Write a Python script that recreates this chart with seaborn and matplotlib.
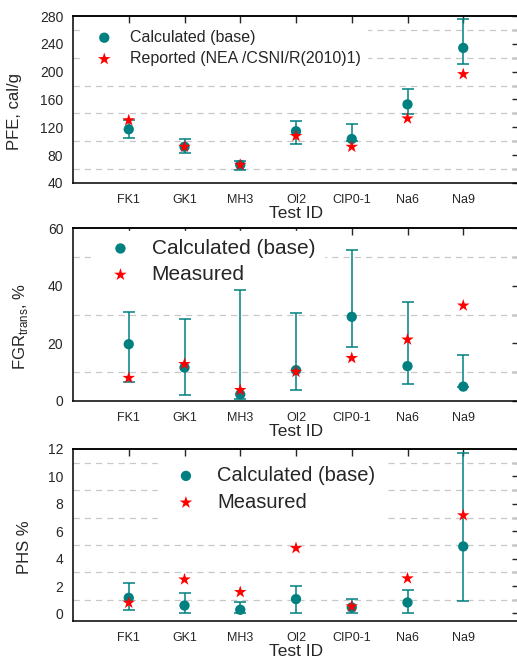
import numpy as np
import pandas as pd
import matplotlib
matplotlib.use("Agg")
import matplotlib.pyplot as plt
import seaborn as sns

# test cases
tests = ["FK1", "GK1", "MH3", "OI2", "CIP0-1", "Na6", "Na9"]
xpos = np.arange(1, len(tests) + 1)

# PFE, cal/g
pfe_calc = [117.2, 92.1, 66.0, 114.3, 103.2, 153.0, 234.1]
pfe_low = [104.2, 82.4, 59.2, 95.5, 101.0, 139.0, 211.4]
pfe_high = [130.0, 103.7, 72.3, 129.3, 125.4, 174.7, 275.2]
pfe_rep = [130.2, 92.0, 66.0, 107.5, 92.0, 132.7, 196.4]

# FGR trans, %
fgr_calc = [19.7, 11.6, 2.3, 10.7, 29.2, 12.1, 5.0]
fgr_low = [6.6, 2.1, 0.8, 3.7, 18.6, 6.0, 5.0]
fgr_high = [30.8, 28.6, 38.6, 30.4, 52.2, 34.5, 15.8]
fgr_meas = [8.0, 12.8, 3.8, 10.1, 14.9, 21.3, 33.1]

# PHS %
phs_calc = [1.14, 0.58, 0.27, 1.05, 0.44, 0.80, 4.89]
phs_low = [0.22, 0.0, 0.0, 0.02, 0.02, 0.0, 0.92]
phs_high = [2.24, 1.46, 0.80, 1.97, 1.05, 1.68, 11.68]
phs_meas = [0.78, 2.48, 1.56, 4.77, 0.51, 2.56, 7.16]

teal = "#008080"
red = "#ff0000"

sns.set_style("white")
plt.rcParams["font.family"] = ["Liberation Sans", "DejaVu Sans"]
plt.rcParams["mathtext.fontset"] = "custom"
plt.rcParams["mathtext.rm"] = "Liberation Sans"

fig = plt.figure(figsize=(5.17, 6.62), dpi=100)

W = 446 / 517
panels = [
    dict(rect=[73 / 517, 1 - 183 / 662, W, 167 / 662],
         calc=pfe_calc, low=pfe_low, high=pfe_high, ref=pfe_rep,
         ref_label="Reported (NEA /CSNI/R(2010)1)",
         ylim=(40, 280), major=np.arange(40, 281, 40), minor=np.arange(60, 261, 40),
         ylabel="PFE, cal/g", ylab_x=-0.114, leg_size=11.5,
         leg_anchor=(0.02, 0.955), leg_space=0.4, leg_pad=0.6),
    dict(rect=[73 / 517, 1 - 401 / 662, W, 173 / 662],
         calc=fgr_calc, low=fgr_low, high=fgr_high, ref=fgr_meas,
         ref_label="Measured",
         ylim=(0, 60), major=np.arange(0, 61, 20), minor=np.arange(10, 51, 20),
         ylabel=r"FGR$_{\mathrm{trans}}$, %", ylab_x=-0.096, leg_size=15,
         leg_anchor=(0.041, 0.985), leg_space=0.35, leg_pad=0.5),
    dict(rect=[73 / 517, 1 - 621 / 662, W, 172 / 662],
         calc=phs_calc, low=phs_low, high=phs_high, ref=phs_meas,
         ref_label="Measured",
         ylim=(-0.55, 12), major=np.arange(0, 13, 2), minor=np.arange(1, 12, 2),
         ylabel="PHS %", ylab_x=-0.092, leg_size=14.5,
         leg_anchor=(0.19, 0.947), leg_space=0.38, leg_pad=0.55),
]

for p in panels:
    ax = fig.add_axes(p["rect"])
    calc = np.array(p["calc"])
    err = [calc - np.array(p["low"]), np.array(p["high"]) - calc]
    ax.errorbar(xpos, calc, yerr=err, fmt="none", ecolor=teal, elinewidth=1.1,
                capsize=4, capthick=1.1, zorder=3)
    df = pd.DataFrame({"x": xpos, "calc": calc, "ref": p["ref"]})
    sns.scatterplot(data=df, x="x", y="calc", ax=ax, color=teal, s=55,
                    edgecolor="none", label="Calculated (base)", zorder=4)
    sns.scatterplot(data=df, x="x", y="ref", ax=ax, color=red, marker="*", s=90,
                    edgecolor="none", label=p["ref_label"], zorder=5)

    ax.set_xlim(0, 8)
    ax.set_ylim(*p["ylim"])
    ax.set_xticks(np.arange(0, 8))
    ax.set_xticklabels([""] + tests, fontsize=9)
    ax.set_yticks(p["major"])
    ax.set_yticks(p["minor"], minor=True)
    ax.tick_params(axis="y", which="major", direction="out", length=5, width=1,
                   labelsize=10, pad=2)
    ax.tick_params(axis="y", which="minor", direction="out", length=3, width=1)
    ax.tick_params(axis="x", which="major", direction="out", length=6, width=1, pad=2)
    ax.grid(False)
    ax.grid(which="minor", axis="y", ls=(0, (5, 4)), color="#c8c8c8", lw=0.9, zorder=0)
    ax.set_axisbelow(True)

    top = ax.secondary_xaxis("top")
    top.set_xticks(np.arange(1, 8))
    top.tick_params(direction="in", length=5, width=1, labeltop=False)
    right = ax.secondary_yaxis("right")
    right.set_yticks(np.sort(np.concatenate([p["major"], p["minor"]])))
    right.tick_params(direction="in", length=5, width=1, labelright=False)
    for s in list(ax.spines.values()) + list(top.spines.values()) + list(right.spines.values()):
        s.set_color("black")
        s.set_linewidth(1.1)

    ax.set_xlabel("Test ID", fontsize=12.5, labelpad=0)
    ax.set_ylabel(p["ylabel"], fontsize=12)
    ax.yaxis.set_label_coords(p["ylab_x"], 0.43)

    leg = ax.legend(loc="upper left", bbox_to_anchor=p["leg_anchor"], fontsize=p["leg_size"],
                    frameon=True, framealpha=1, facecolor="white", edgecolor="white",
                    handletextpad=p["leg_pad"], borderaxespad=0,
                    labelspacing=p["leg_space"], fancybox=False)
    # keep the white legend box over the grid but under the error bars
    leg.set_zorder(2.5)

fig.savefig("out.png", dpi=100)
